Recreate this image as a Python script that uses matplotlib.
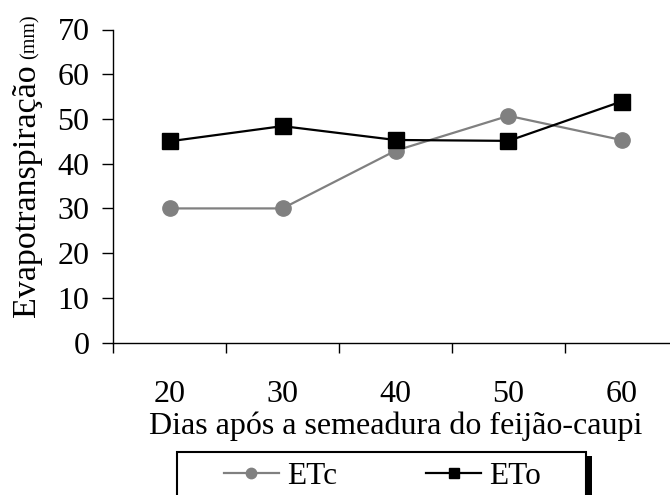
import numpy as np
import matplotlib
matplotlib.use('Agg')
import matplotlib.pyplot as plt
from matplotlib.patches import Rectangle

plt.rcParams['font.family'] = ['Liberation Serif', 'DejaVu Serif']

# dados
dias = ['20', '30', '40', '50', '60']
etc = [30.0, 30.0, 42.9, 50.7, 45.3]
eto = [45.0, 48.4, 45.3, 45.1, 53.9]

W, H = 670, 495
fig = plt.figure(figsize=(W/100, H/100), dpi=100)

# area do grafico (em pixels: x 113..678, y 29.5..342.6)
ax = fig.add_axes([113/W, 1 - 342.6/H, 565/W, (342.6 - 29.5)/H])
x = np.arange(len(dias))

l1, = ax.plot(x, etc, color='#808080', lw=1.6, marker='o', ms=11,
              label='ETc', zorder=3)
l2, = ax.plot(x, eto, color='black', lw=1.6, marker='s', ms=11,
              mec='black', label='ETo', zorder=4)

ax.set_xlim(-0.5, len(dias) - 0.5)
ax.set_ylim(0, 70)
ax.set_yticks(np.arange(0, 71, 10))

# ticks nas divisas das categorias, rotulos no centro
ax.set_xticks(np.arange(-0.5, len(dias), 1.0))
ax.set_xticklabels([])
ax.set_xticks(x, minor=True)
ax.set_xticklabels(dias, minor=True)
ax.tick_params(axis='x', which='major', direction='out', length=7.5, width=1)
ax.tick_params(axis='x', which='minor', length=0, pad=27, labelsize=23)
ax.tick_params(axis='y', direction='out', length=8, width=1, pad=9, labelsize=23)

for s in ['top', 'right']:
    ax.spines[s].set_visible(False)
for s in ['left', 'bottom']:
    ax.spines[s].set_linewidth(1)

ax.set_xlabel('Dias após a semeadura do feijão-caupi', fontsize=23, labelpad=2)

# rotulo do eixo y: texto principal + (mm) menor
fig.text(35/W, 1 - 317/H, 'Evapotranspiração', rotation=90, rotation_mode='anchor',
         ha='left', va='baseline', fontsize=24.5)
fig.text(35/W, 1 - 14/H, '(mm)', rotation=90, rotation_mode='anchor',
         ha='right', va='baseline', fontsize=14.5)

# caixa da legenda com sombra (cortada embaixo)
bx0, bx1, by0 = 177, 586, 452
fig.patches.append(Rectangle(((bx0 + 6)/W, 1 - 530/H), (bx1 - bx0)/W, (530 - by0 - 4)/H,
                             transform=fig.transFigure, facecolor='black',
                             edgecolor='none', zorder=1))
fig.patches.append(Rectangle((bx0/W, 1 - 530/H), (bx1 - bx0)/W, (530 - by0)/H,
                             transform=fig.transFigure, facecolor='white',
                             edgecolor='black', lw=1.5, zorder=2))

leg = fig.legend(handles=[l1, l2], labels=['ETc', 'ETo'], ncol=2, loc='center',
                 bbox_to_anchor=(382.5/W, 1 - 476/H), frameon=False, fontsize=22.5,
                 handlelength=1.76, handletextpad=0.26, columnspacing=2.85,
                 markerscale=0.68, borderpad=0)
leg.set_zorder(3)

fig.savefig('out.png', dpi=100)
